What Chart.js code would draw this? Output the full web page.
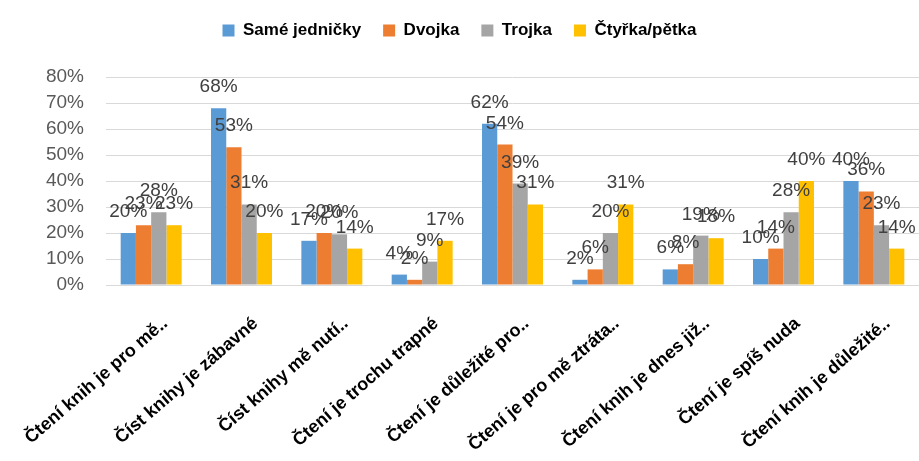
<!DOCTYPE html>
<html>
<head>
<meta charset="utf-8">
<script src="https://cdn.jsdelivr.net/npm/chart.js@4/dist/chart.umd.min.js"></script>
<style>
  html, body { margin: 0; padding: 0; background: #fff; }
  #wrap { width: 919px; height: 461px; }
</style>
</head>
<body>
<div id="wrap"><canvas id="grades-chart"></canvas></div>
<script>
// categories (truncated the same way as in the source chart)
const categories = [
  'Čtení knih je pro mě..',
  'Číst knihy je zábavné',
  'Číst knihy mě nutí..',
  'Čtení je trochu trapné',
  'Čtení je důležité pro..',
  'Čtení je pro mě ztráta..',
  'Čtení knih je dnes již..',
  'Čtení je spíš nuda',
  'Čtení knih je důležité..',
];

// values in percent, one array per grade group
const sameJednicky = [20, 68, 17, 4, 62, 2, 6, 10, 40];
const dvojka = [23, 53, 20, 2, 54, 6, 8, 14, 36];
const trojka = [28, 31, 19.5, 9, 39, 20, 19, 28, 23];
const ctyrkaPetka = [23, 20, 14, 17, 31, 31, 18, 40, 14];

const yTicks = [0, 10, 20, 30, 40, 50, 60, 70, 80];

// draws the value above each bar (no datalabels plugin available)
const barValueLabels = {
  id: 'barValueLabels',
  afterDatasetsDraw(chart) {
    const ctx = chart.ctx;
    ctx.save();
    ctx.font = '19px "Liberation Sans", Arial, sans-serif';
    ctx.fillStyle = '#404040';
    ctx.textAlign = 'center';
    ctx.textBaseline = 'alphabetic';
    chart.data.datasets.forEach((ds, i) => {
      const meta = chart.getDatasetMeta(i);
      meta.data.forEach((bar, j) => {
        ctx.fillText(Math.round(ds.data[j]) + '%', bar.x, bar.y - 16);
      });
    });
    ctx.restore();
  },
};

// extra gap under the legend
const legendGap = {
  id: 'legendGap',
  beforeInit(chart) {
    const origFit = chart.legend.fit;
    chart.legend.fit = function () {
      origFit.bind(chart.legend)();
      this.height += 28;
    };
  },
};

const chartData = {
  labels: categories,
  datasets: [
    { label: 'Samé jedničky', data: sameJednicky, backgroundColor: '#5B9BD5' },
    { label: 'Dvojka', data: dvojka, backgroundColor: '#ED7D31' },
    { label: 'Trojka', data: trojka, backgroundColor: '#A5A5A5' },
    { label: 'Čtyřka/pětka', data: ctyrkaPetka, backgroundColor: '#FFC000' },
  ],
};

const config = {
  type: 'bar',
  data: chartData,
  options: {
    responsive: true,
    maintainAspectRatio: false,
    animation: false,
    layout: { padding: { left: 0, right: 0, top: 0, bottom: 0 } },
    datasets: {
      bar: { categoryPercentage: 0.675, barPercentage: 1 },
    },
    scales: {
      x: {
        grid: { display: false },
        border: { color: '#d9d9d9', width: 1 },
        ticks: {
          color: '#000',
          font: { family: '"Liberation Sans", Arial, sans-serif', size: 18, weight: 'bold' },
          minRotation: 41,
          maxRotation: 41,
          autoSkip: false,
          padding: 20,
          labelOffset: 14,
        },
        afterFit: s => {
          s.height = 176;
          s.paddingLeft = 0;
          s.paddingRight = 0;
        },
      },
      y: {
        min: 0,
        max: 80,
        afterBuildTicks: s => { s.ticks = yTicks.map(v => ({ value: v })); },
        grid: { color: '#d9d9d9', drawTicks: false },
        border: { display: false },
        ticks: {
          color: '#595959',
          font: { family: '"Liberation Sans", Arial, sans-serif', size: 19 },
          padding: 22,
          autoSkip: false,
          callback: v => v + '%',
        },
        afterFit: s => { s.width = 106; },
      },
    },
    plugins: {
      legend: {
        position: 'top',
        labels: {
          color: '#000',
          boxWidth: 12,
          boxHeight: 12,
          padding: 22,
          font: { family: '"Liberation Sans", Arial, sans-serif', size: 17, weight: 'bold' },
        },
      },
      tooltip: { enabled: false },
    },
  },
  plugins: [barValueLabels, legendGap],
};

const chart = new Chart(document.querySelector('#grades-chart'), config);
</script>
</body>
</html>
